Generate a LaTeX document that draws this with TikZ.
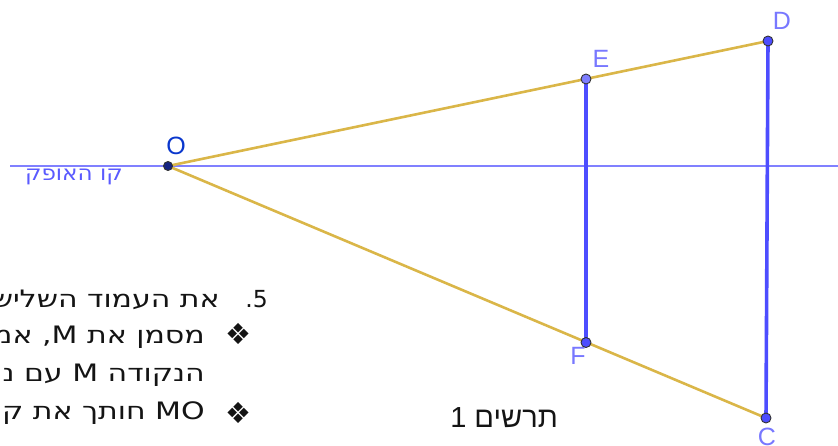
\documentclass[tikz,border=0pt]{standalone}
\usepackage{fontspec}
\setmainfont{Liberation Sans}
\newfontfamily\hebfont[Script=Hebrew]{Liberation Sans}
\newfontfamily\dvheb[Script=Hebrew,FakeStretch=1.25]{DejaVu Sans}
\newfontfamily\dvhebh[Script=Hebrew,FakeStretch=1.1]{DejaVu Sans}
\newfontfamily\dvfont{DejaVu Sans}
\TeXXeTstate=1
\definecolor{gold}{RGB}{218,182,72}
\definecolor{segblue}{RGB}{77,77,255}
\definecolor{horizblue}{RGB}{128,128,255}
\definecolor{hlabelblue}{RGB}{90,90,255}
\definecolor{lblblue}{RGB}{120,120,255}
\definecolor{oblue}{RGB}{10,55,205}
\definecolor{ptdark}{RGB}{20,35,130}
\definecolor{ptlight}{RGB}{125,125,255}
\definecolor{txt}{RGB}{20,20,20}
\begin{document}
\begin{tikzpicture}[x=1pt,y=-1pt,
  goldline/.style={draw=gold,line width=2.6pt},
  segline/.style={draw=segblue,line width=3.6pt},
  horizline/.style={draw=horizblue,line width=2pt},
  ptdot/.style={circle,inner sep=0pt,minimum size=10pt,draw=black!80,line width=0.9pt},
  ptlbl/.style={text=lblblue,font=\fontsize{25}{25}\selectfont,inner sep=0pt},
  bodytext/.style={text=txt,font=\dvheb\fontsize{24}{24}\selectfont,inner sep=0pt,anchor=base east},
  bullet/.style={text=txt,font=\dvfont\fontsize{29}{29}\selectfont,inner sep=0pt}]
\useasboundingbox (0,0) rectangle (838,445);
\clip (0,0) rectangle (838,445);
% points
\coordinate (O) at (168,166);
\coordinate (E) at (586,79);
\coordinate (D) at (768,41);
\coordinate (F) at (586,342.5);
\coordinate (C) at (766,418);
\coordinate (hl) at (10,166);
\coordinate (hr) at (845,166);
% horizon
\draw[horizline] (hl) -- (hr);
% yellow rays
\draw[goldline] (O) -- (D);
\draw[goldline] (O) -- (C);
% vertical segments
\draw[segline] (E) -- (F);
\draw[segline] (D) -- (C);
% labels
\node[ptlbl,text=oblue] (lO) at (176,146) {O};
\node[ptlbl] (lE) at (601,58.5) {E};
\node[ptlbl] (lD) at (782,20.5) {D};
\node[ptlbl] (lF) at (578,356) {F};
\node[ptlbl] (lC) at (767,437) {C};
% point markers
\node[ptdot,fill=ptdark,minimum size=9pt] (pO) at (O) {};
\node[ptdot,fill=ptlight] (pE) at (E) {};
\node[ptdot,fill=segblue] (pD) at (D) {};
\node[ptdot,fill=segblue] (pF) at (F) {};
\node[ptdot,fill=segblue] (pC) at (C) {};
% horizon label
\node[text=hlabelblue,font=\dvhebh\fontsize{21}{21}\selectfont,inner sep=0pt,anchor=base east] (hlabel) at (123,180) {\beginR קו האופק\endR};
% body text
\node[text=txt,font=\dvfont\fontsize{23.5}{23.5}\selectfont,inner sep=0pt,anchor=base east] (num) at (268,307) {.5};
\node[bodytext] (t1) at (220,307) {\beginR את העמוד השליש\endR};
\node[bullet] (b2) at (238,334) {❖};
\node[bodytext] (t2) at (205,343) {\beginR מסמן את \beginL M\endL, אמ\endR};
\node[bodytext] (t3) at (205,381) {\beginR הנקודה \beginL M\endL{} עם נ\endR};
\node[bullet] (b4) at (238,413) {❖};
\node[bodytext] (t4) at (205,419) {\beginR \beginL MO\endL{} חותך את ק\endR};
% caption
\node[text=txt,font=\hebfont\fontsize{29}{29}\selectfont,inner sep=0pt,anchor=base east] (cap) at (558,427) {\beginR תרשים \beginL 1\endL\endR};
\end{tikzpicture}
\end{document}
